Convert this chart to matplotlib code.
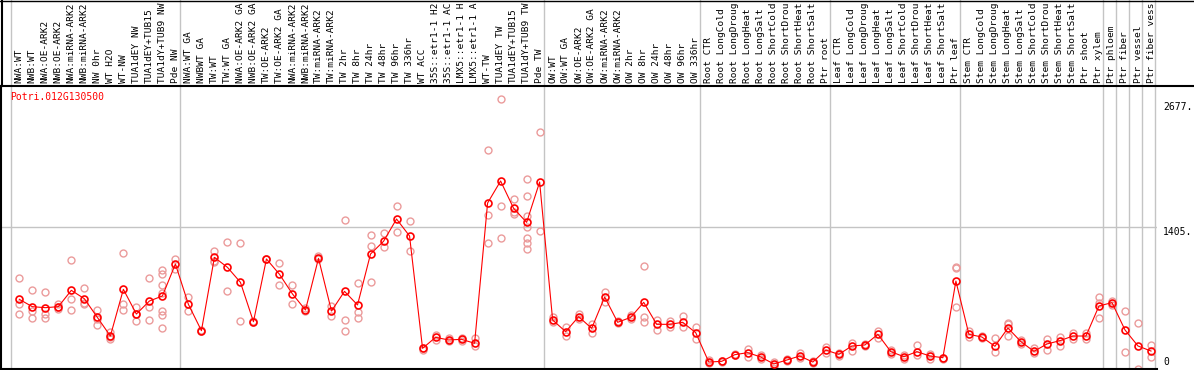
import numpy as np
import matplotlib.pyplot as plt
import matplotlib.transforms as mtransforms
from matplotlib.lines import Line2D


gene = "Potri.012G130500"

# header labels as far as they show in the header band (14 characters)
samples = [
    "NWA:WT", "NWB:WT", "NWA:OE-ARK2", "NWB:OE-ARK2", "NWA:miRNA-ARK2",
    "NWB:miRNA-ARK2", "NW 0hr", "WT H2O", "WT-NW", "TUA1dEY NW",
    "TUA1dEY+TUB15", "TUA1dY+TUB9 NW", "Pde NW",
    "NWA:WT GA", "NWBWT GA", "TW:WT", "TW:WT GA", "NWA:OE-ARK2 GA",
    "NWB:OE-ARK2 GA", "TW:OE-ARK2", "TW:OE-ARK2 GA", "NWA:miRNA-ARK2",
    "NWB:miRNA-ARK2", "TW:miRNA-ARK2", "TW:miRNA-ARK2", "TW 2hr", "TW 8hr",
    "TW 24hr", "TW 48hr", "TW 96hr", "TW 336hr", "WT ACC", "35S::etr1-1 H2",
    "35S::etr1-1 AC", "LMX5::etr1-1 H", "LMX5::etr1-1 A", "WT-TW",
    "TUA1dEY TW", "TUA1dEY+TUB15", "TUA1dY+TUB9 TW", "Pde TW",
    "OW:WT", "OW:WT GA", "OW:OE-ARK2", "OW:OE-ARK2 GA", "OW:miRNA-ARK2",
    "OW:miRNA-ARK2", "OW 2hr", "OW 8hr", "OW 24hr", "OW 48hr", "OW 96hr",
    "OW 336hr",
    "Root CTR", "Root LongCold", "Root LongDroug", "Root LongHeat",
    "Root LongSalt", "Root ShortCold", "Root ShortDrou", "Root ShortHeat",
    "Root ShortSalt", "Ptr root",
    "Leaf CTR", "Leaf LongCold", "Leaf LongDroug", "Leaf LongHeat",
    "Leaf LongSalt", "Leaf ShortCold", "Leaf ShortDrou", "Leaf ShortHeat",
    "Leaf ShortSalt", "Ptr leaf",
    "Stem CTR", "Stem LongCold", "Stem LongDroug", "Stem LongHeat",
    "Stem LongSalt", "Stem ShortCold", "Stem ShortDrou", "Stem ShortHeat",
    "Stem ShortSalt", "Ptr shoot", "Ptr xylem",
    "Ptr phloem", "Ptr fiber", "Ptr vessel", "Ptr fiber vess",
]

means = [
    691, 618, 608, 618, 780, 697, 512, 327, 790, 545, 674, 724, 1041,
    641, 380, 1107, 1008, 859, 469, 1091, 939, 744, 585, 1097, 575, 770,
    635, 1140, 1266, 1487, 1319, 205, 314, 288, 294, 255, 1646, 1864, 1593,
    1454, 1854,
    486, 370, 519, 403, 714, 463, 512, 661, 443, 443, 463, 360,
    69, 76, 142, 162, 119, 50, 89, 129, 69, 188,
    145, 228, 238, 344, 172, 122, 172, 129, 112, 872,
    344, 317, 225, 406, 271, 175, 248, 281, 327, 327, 625,
    658, 387, 228, 178,
]

reps = [
    [899, 641, 545], [780, 578, 502], [760, 545, 502], [648, 618, 595],
    [1077, 691, 582], [800, 641, 651], [582, 499, 433], [364, 294, 314],
    [1147, 648, 582], [611, 479, 545], [899, 618, 483],
    [982, 945, 833, 754, 578, 532, 403], [1087, 991],
    [714, 578], [388, 372], [1170, 1074, 1064], [1256, 770], [1246, 476],
    [476, 463], [1095, 1087], [1048, 833], [833, 641], [602, 578],
    [1124, 1087], [625, 529], [1477, 483, 377], [849, 568, 502],
    [1329, 1220, 859], [1352, 1213], [1616, 1355], [1464, 1167], [205, 188],
    [337, 288], [304, 281], [304, 281], [304, 228], [2168, 1527, 1246],
    [2677, 1613, 1296], [1686, 1560, 1537],
    [1884, 1712, 1517, 1411, 1296, 1253, 1187], [2350, 1368],
    [519, 469], [420, 330], [545, 493], [443, 360], [763, 661], [479, 453],
    [532, 499], [1021, 512, 463], [486, 387], [479, 413], [526, 420],
    [420, 294],
    [89, 56], [83, 69], [149, 136], [202, 122], [136, 96], [73, 30],
    [96, 83], [155, 106], [76, 63], [221, 162],
    [155, 129], [254, 182], [244, 232], [377, 304], [188, 149], [136, 102],
    [238, 139], [149, 102], [112, 102], [1008, 998, 611],
    [380, 321], [327, 304], [304, 165], [459, 443, 327], [288, 248],
    [205, 155], [297, 188], [314, 228], [360, 294], [354, 301],
    [711, 651, 502],
    [678, 635], [572, 165], [453, 3], [235, 116],
]

# group separators (sample index where a new group starts)
group_edges = [0, 13, 41, 53, 63, 73, 84, 85, 86, 87, 88]

y_labels = [(2677, "2677.", -8), (1405, "1405.", -5), (0, "0", 7)]


W, H = 1194, 370
mono = "DejaVu Sans Mono"
grid_col = "#c4c4c4"
rep_col = "#eb9b9b"

fig = plt.figure(figsize=(W / 100, H / 100), dpi=100)
fig.patch.set_facecolor("white")

# plot area: x pixels 1..1157, y pixels 86..369
ax = fig.add_axes([1 / W, 1 / H, 1156 / W, 283 / H])
ax.set_xlim(-1.407, 87.46)
ax.set_ylim(0, 2806)
ax.set_xticks([])
ax.set_yticks([])
for s in ["top", "right"]:
    ax.spines[s].set_visible(False)
for s in ["left", "bottom"]:
    ax.spines[s].set_linewidth(1.5)
    ax.spines[s].set_color("black")

x = np.arange(len(samples))

# vertical separators run up through the header
top_ext = 1 + 86 / 283
for e in group_edges:
    ax.axvline(e - 0.66, ymin=0, ymax=top_ext, color=grid_col, lw=1.0,
               clip_on=False, zorder=1)
ax.axhline(1405, color=grid_col, lw=1.0, zorder=1)

# replicates
rx = [i for i, r in enumerate(reps) for _ in r]
ry = [v for r in reps for v in r]
ax.plot(rx, ry, "o", mfc="none", mec=rep_col, ms=5.0, mew=1.0,
        clip_on=False, zorder=2)

# mean line
ax.plot(x, means, "-", color="red", lw=0.8, marker="o", mfc="none",
        mec="red", ms=5.0, mew=1.2, clip_on=False, zorder=3)

# header labels
trans = mtransforms.blended_transform_factory(ax.transData, fig.transFigure)
for i, name in enumerate(samples):
    fig.text(i, 1 - 83 / H, name, transform=trans, rotation=90,
             ha="center", va="bottom", fontsize=6.8, family=mono)

# header frame lines
fig.add_artist(Line2D([0, 1], [1 - 85.5 / H] * 2, color="black", lw=1.5,
                      transform=fig.transFigure))
fig.add_artist(Line2D([0, 1], [1 - 0.5 / H] * 2, color="black", lw=1.0,
                      transform=fig.transFigure))
fig.add_artist(Line2D([1.5 / W] * 2, [1 - 86 / H, 1], color="black", lw=1.5,
                      transform=fig.transFigure))

fig.text(10 / W, 1 - 97 / H, gene, color="red", ha="left", va="center",
         fontsize=7, family=mono)

for val, txt, dy in y_labels:
    ax.annotate(txt, xy=(1, val), xycoords=("axes fraction", "data"),
                xytext=(6, dy), textcoords="offset pixels",
                ha="left", va="center", fontsize=7, family=mono,
                annotation_clip=False)

fig.savefig("out.png", dpi=100)
